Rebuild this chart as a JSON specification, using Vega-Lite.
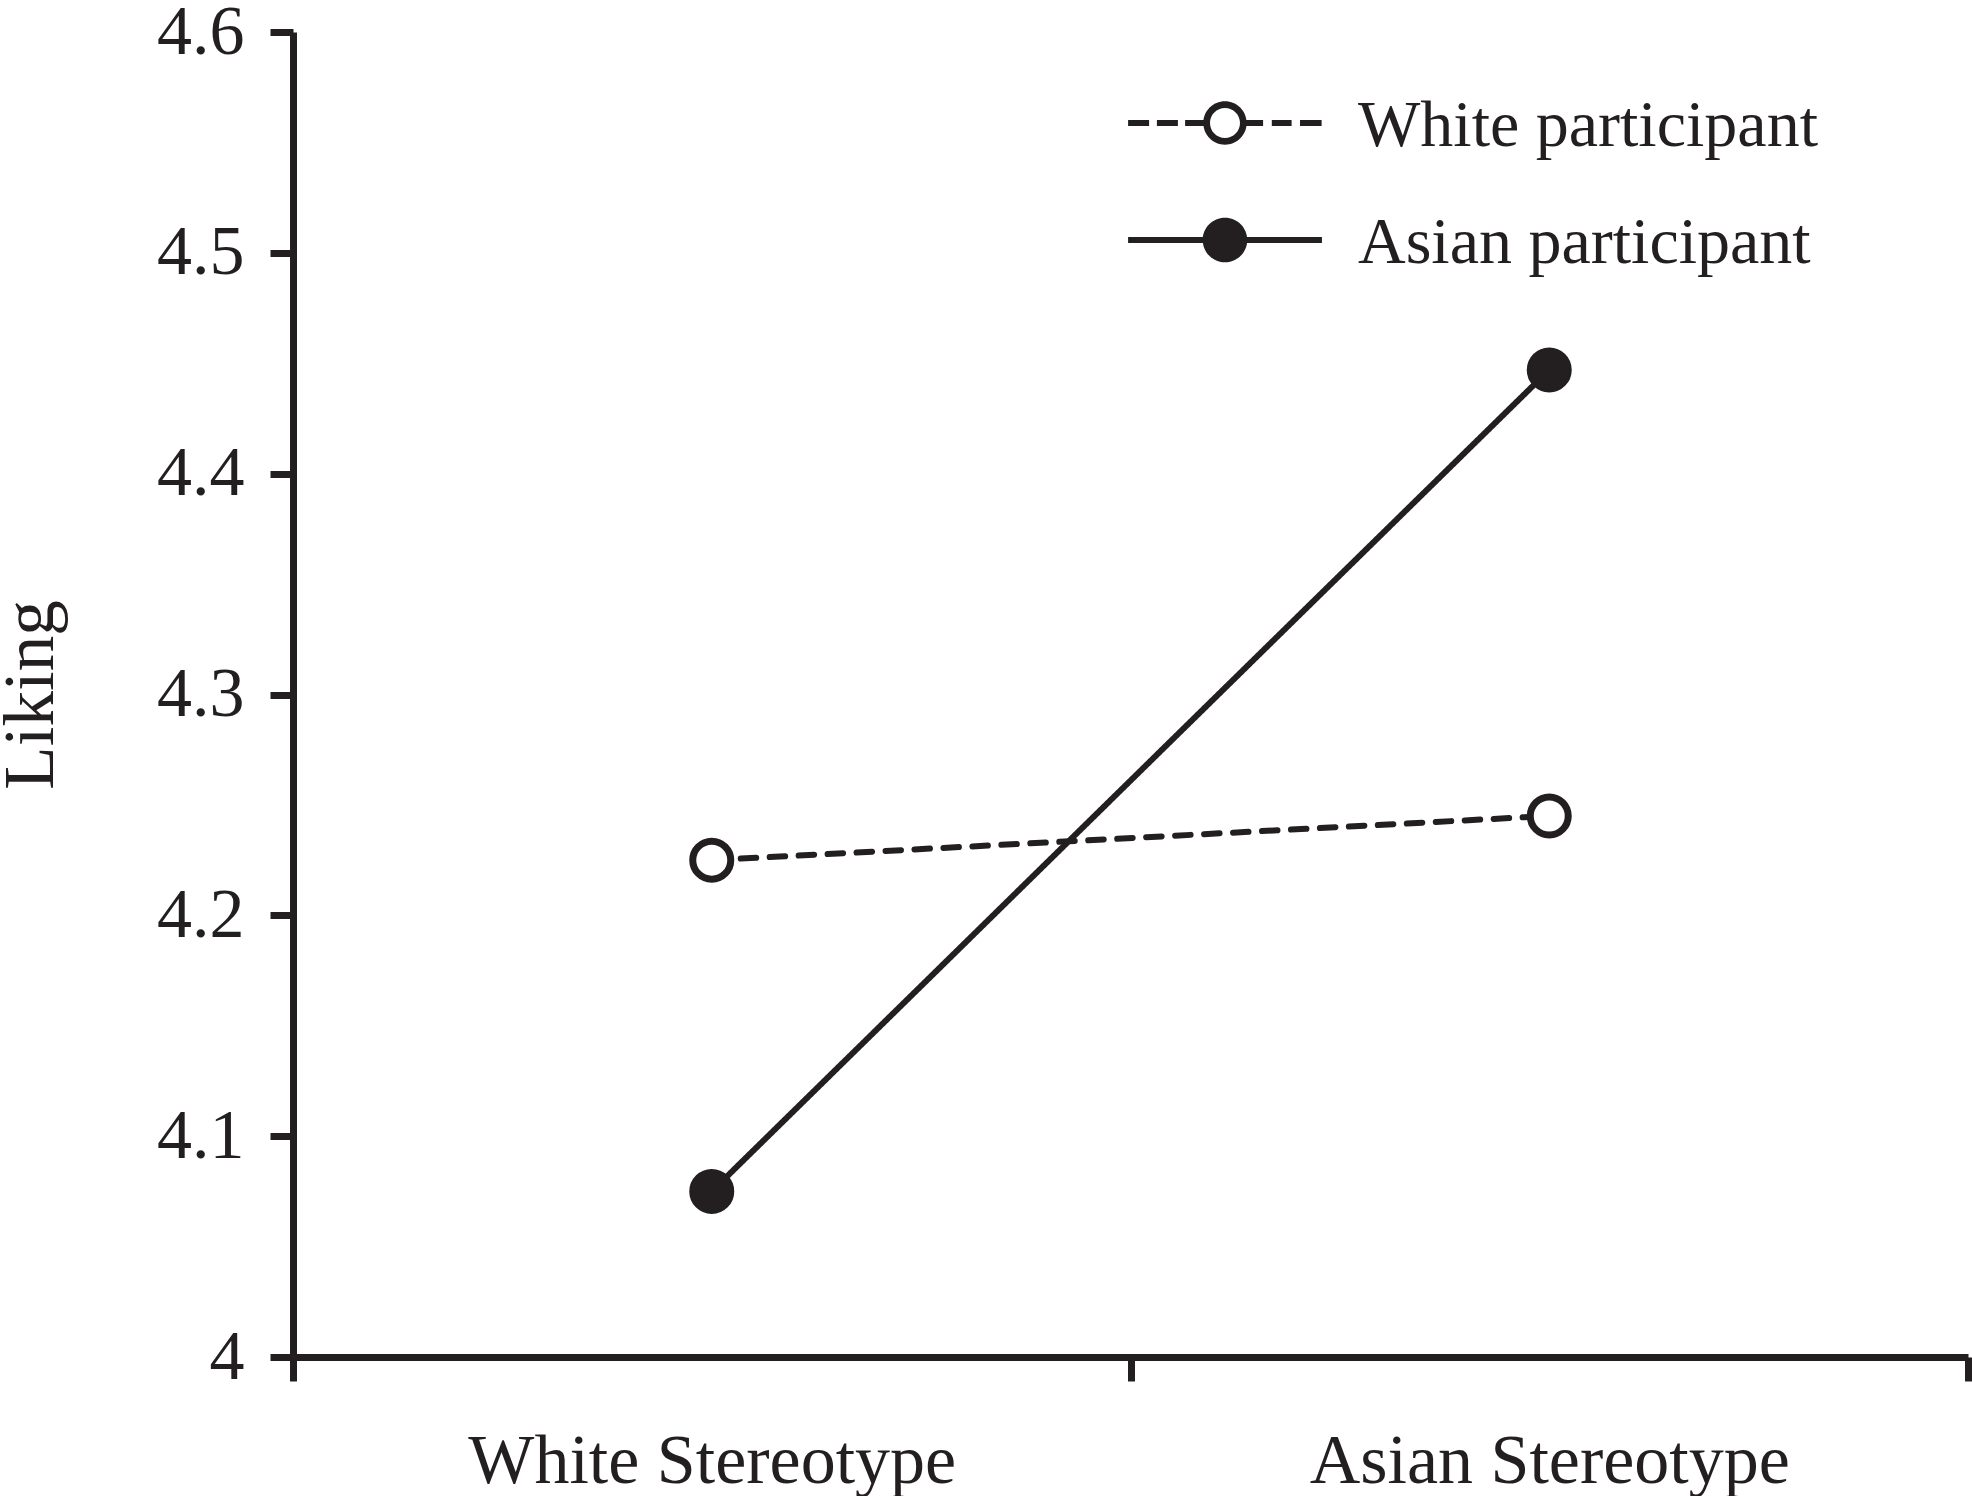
{
  "$schema": "https://vega.github.io/schema/vega-lite/v6.json",
  "width": 1675,
  "height": 1325,
  "autosize": "none",
  "padding": {"left": 293, "top": 32, "right": 4, "bottom": 139},
  "background": "white",
  "data": {
    "values": [
      {"stereotype": "White Stereotype", "participant": "White participant", "liking": 4.225},
      {"stereotype": "Asian Stereotype", "participant": "White participant", "liking": 4.245},
      {"stereotype": "White Stereotype", "participant": "Asian participant", "liking": 4.075},
      {"stereotype": "Asian Stereotype", "participant": "Asian participant", "liking": 4.447}
    ]
  },
  "encoding": {
    "x": {
      "field": "stereotype",
      "type": "nominal",
      "sort": ["White Stereotype", "Asian Stereotype"],
      "scale": {"paddingInner": 0, "paddingOuter": 0},
      "axis": {
        "title": null,
        "labelAngle": 0,
        "labelLimit": 0,
        "tickBand": "extent",
        "tickSize": 24,
        "labelPadding": 46
      }
    },
    "y": {
      "field": "liking",
      "type": "quantitative",
      "scale": {"domain": [4, 4.6], "nice": false, "zero": false},
      "axis": {
        "title": "Liking",
        "values": [4, 4.1, 4.2, 4.3, 4.4, 4.5, 4.6],
        "format": "~g",
        "tickSize": 23,
        "labelPadding": 26,
        "titleFontSize": 71,
        "titleX": -226
      }
    }
  },
  "layer": [
    {
      "mark": {"type": "line", "strokeWidth": 6, "color": "#231f20", "strokeCap": "round"},
      "encoding": {
        "detail": {"field": "participant", "type": "nominal"},
        "strokeDash": {
          "condition": {"test": "datum.participant === 'White participant'", "value": [15.5, 13.5]},
          "value": [1, 0]
        }
      }
    },
    {
      "mark": {"type": "circle", "size": 1444, "stroke": "#231f20", "strokeWidth": 7, "opacity": 1},
      "encoding": {
        "fill": {
          "condition": {"test": "datum.participant === 'White participant'", "value": "#ffffff"},
          "value": "#231f20"
        }
      }
    },
    {
      "mark": {"type": "point", "filled": true, "color": "#231f20", "opacity": 1, "size": 0, "strokeWidth": 0},
      "encoding": {
        "shape": {
          "field": "participant",
          "type": "nominal",
          "scale": {
            "domain": ["White participant", "Asian participant"],
            "range": [
              "M-3.23,-0.2H-2.53V0H-3.23Z M-2.27,-0.2H-1.57V0H-2.27Z M-1.33,-0.2H-0.6V0H-1.33Z M0.6,-0.2H1.27V0H0.6Z M1.56,-0.2H2.22V0H1.56Z M2.5,-0.2H3.22V0H2.5Z M0.723,-0.1C0.723,0.299 0.399,0.623 0,0.623C-0.399,0.623 -0.723,0.299 -0.723,-0.1C-0.723,-0.499 -0.399,-0.823 0,-0.823C0.399,-0.823 0.723,-0.499 0.723,-0.1Z M0.5,-0.1C0.5,-0.376 0.276,-0.6 0,-0.6C-0.276,-0.6 -0.5,-0.376 -0.5,-0.1C-0.5,0.176 -0.276,0.4 0,0.4C0.276,0.4 0.5,0.176 0.5,-0.1Z",
              "M-3.23,-0.2H3.23V0H-3.23Z M0.743,-0.1C0.743,0.31 0.41,0.643 0,0.643C-0.41,0.643 -0.743,0.31 -0.743,-0.1C-0.743,-0.51 -0.41,-0.843 0,-0.843C0.41,-0.843 0.743,-0.51 0.743,-0.1Z"
            ]
          },
          "legend": {
            "orient": "none",
            "legendX": 899,
            "legendY": 61,
            "title": null,
            "padding": 0,
            "symbolSize": 3600,
            "symbolOpacity": 1,
            "symbolFillColor": "#231f20",
            "symbolStrokeWidth": 0,
            "labelFontSize": 66,
            "labelFont": "Liberation Serif",
            "labelColor": "#231f20",
            "labelOffset": 100,
            "labelLimit": 0,
            "rowPadding": 51
          }
        }
      }
    }
  ],
  "config": {
    "font": "Liberation Serif",
    "view": {"stroke": null},
    "axis": {
      "grid": false,
      "domainColor": "#231f20",
      "domainWidth": 7,
      "tickColor": "#231f20",
      "tickWidth": 7,
      "labelFont": "Liberation Serif",
      "labelFontSize": 70,
      "labelColor": "#231f20",
      "titleFont": "Liberation Serif",
      "titleFontWeight": "normal",
      "titleColor": "#231f20"
    }
  }
}
